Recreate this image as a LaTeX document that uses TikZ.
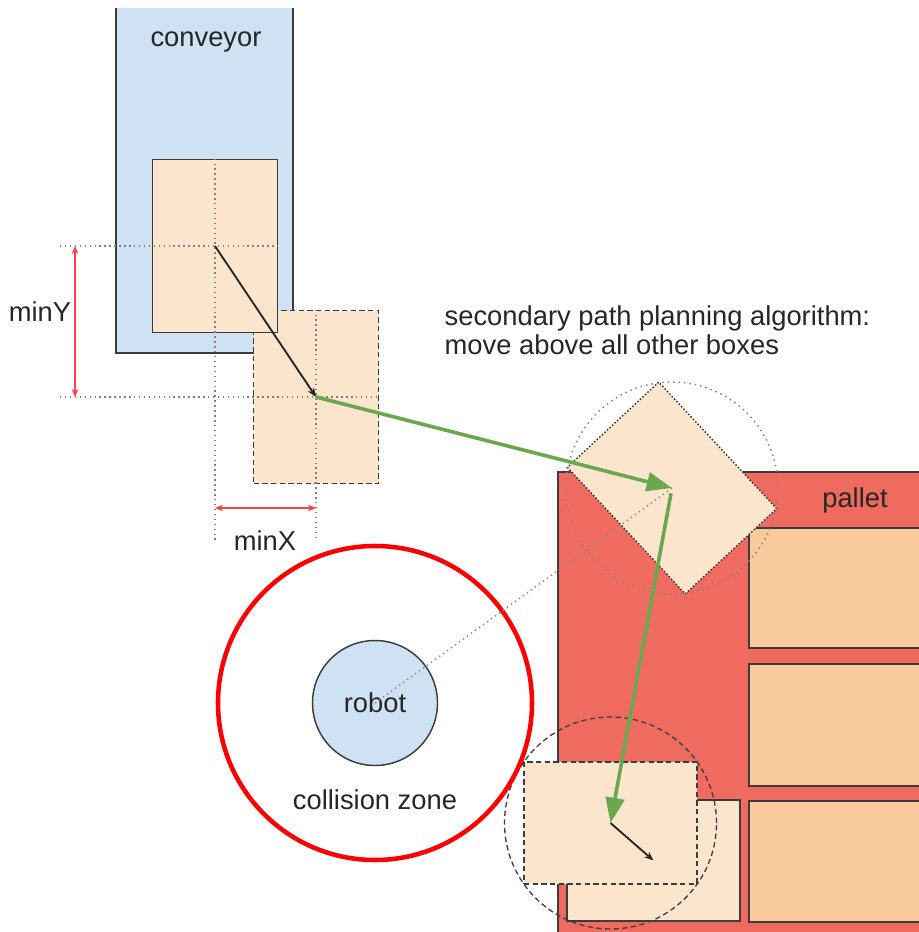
\documentclass[tikz,border=0pt]{standalone}
\usepackage{fontspec}
\setmainfont{Liberation Sans}
\usetikzlibrary{arrows.meta}
\usetikzlibrary{positioning}
\usetikzlibrary{calc}

\definecolor{convblue}{HTML}{CFE2F3}
\definecolor{boxlight}{HTML}{FCE5CD}
\definecolor{boxdark}{HTML}{F9CB9C}
\definecolor{palletred}{HTML}{F06B5F}
\definecolor{pathgreen}{HTML}{6AA84F}
\definecolor{edgegray}{HTML}{3C3C3C}

\begin{document}
\begin{tikzpicture}[x=0.75pt,y=-0.75pt,font=\fontsize{20.5}{22}\selectfont,text=black!85]
		\tikzset{box/.style = {shape=rectangle, fill=boxlight, draw=edgegray, line width=1.4pt, inner sep=0pt,
				minimum width=93.75pt, minimum height=129.75pt},
			flatbox/.style = {box, minimum width=129.75pt, minimum height=91.5pt},
			dashedge/.style = {dash pattern=on 4pt off 2.5pt},
			guide/.style = {draw=gray, line width=1.1pt, dash pattern=on 1.1pt off 2.6pt},
			measure/.style = {{Stealth[length=6pt,width=5pt]}-{Stealth[length=6pt,width=5pt]}, draw=red!75, line width=0.9pt},
			greenpath/.style = {-{Triangle[length=19pt,width=14pt]}, draw=pathgreen, line width=2.7pt},
			nudge/.style = {-{Stealth[length=7pt,width=5.5pt]}, draw=black!85, line width=1.4pt},
			reach/.style = {shape=circle, inner sep=0pt, minimum size=159pt, draw=edgegray, line width=1pt}}
		\useasboundingbox (0,0) rectangle (919,932);
		\clip (0,0) rectangle (919,932);
		
		% conveyor and picked box
		\node[fill=convblue, inner sep=0pt, minimum width=132.75pt, minimum height=258.75pt] (CONV) at (204.5,180.5) {};
		\draw[draw=edgegray, line width=1.4pt] (CONV.north west) |- (CONV.south east) -- (CONV.north east);
		\node (CONVLBL) at (206,42) {conveyor};
		\node[box, dashedge] (BOX2) at (316,397) {};
		\node[box] (BOX1) at (215,246) {};
		
		\coordinate (GY1) at (60,246);
		\coordinate (GY2) at (60,397);
		\coordinate (GX1) at (215,540);
		\coordinate (GX2) at (316,540);
		\draw[guide] (GY1) -- (BOX1.east);
		\draw[guide] (GY2) -- (BOX2.east);
		\draw[guide] (BOX1.north) -- (GX1);
		\draw[guide] (BOX2.north) -- (GX2);
		\draw[nudge] (BOX1.center) -- (BOX2.center);
		
		\coordinate (MY1) at (75,246);
		\coordinate (MY2) at (75,397);
		\coordinate (MX1) at (215,508);
		\coordinate (MX2) at (316,508);
		\draw[measure] (MY1) -- (MY2);
		\draw[measure] (MX1) -- (MX2);
		\node (MINY) at (40,312) {minY};
		\node (MINX) at (265,541) {minX};
		
		% pallet
		\node[fill=palletred, draw=edgegray, line width=1.4pt, inner sep=0pt, anchor=north west,
			minimum width=300pt, minimum height=360pt] (PAL) at (557,471) {};
		\node (PALLBL) at (855,500) {pallet};
		\node[box, fill=boxdark, anchor=north west, minimum width=144pt, minimum height=90pt] (PB1) at (748,527) {};
		\node[box, fill=boxdark, anchor=north west, minimum width=144pt, minimum height=91.5pt] (PB2) at (748,663) {};
		\node[box, fill=boxdark, anchor=north west, minimum width=144pt, minimum height=91pt] (PB3) at (748,800) {};
		\node[flatbox, minimum height=90.75pt] (PLACED) at (653.5,860.5) {};
		\node[flatbox, dashedge] (HOVER) at (610.5,823) {};
		\node[reach, dashedge, draw=black!75] (HOVERZONE) at (HOVER.center) {};
		\draw[nudge] (HOVER.center) -- (PLACED.center);
		
		% rotated box above the others
		\node[box, rotate=43, draw=black!80, line width=1.1pt, dash pattern=on 1.1pt off 1.5pt] (ROT) at (672,488) {};
		\node[reach, draw=gray, line width=1.1pt, dash pattern=on 1.1pt off 3pt] (ROTZONE) at (ROT.center) {};
		\node[align=left, anchor=west] (NOTE) at (440,330) {secondary path planning algorithm:\\move above all other boxes};
		
		% robot
		\node[shape=circle, fill=convblue, draw=edgegray, line width=1.1pt, minimum size=93.75pt, inner sep=0pt] (ROBOT) at (375,703) {robot};
		\node[shape=circle, draw=red, line width=3.4pt, minimum size=235.5pt, inner sep=0pt] (ZONE) at (ROBOT.center) {};
		\node (ZONELBL) at (375,800) {collision zone};
		\draw[guide, draw=gray!90] (ROBOT.center) -- (ROT.center);
		
		\draw[greenpath] (BOX2.center) -- (ROT.center);
		\draw[greenpath, shorten <=4pt] (ROT.center) -- (HOVER.center);
		
		\end{tikzpicture}
\end{document}
